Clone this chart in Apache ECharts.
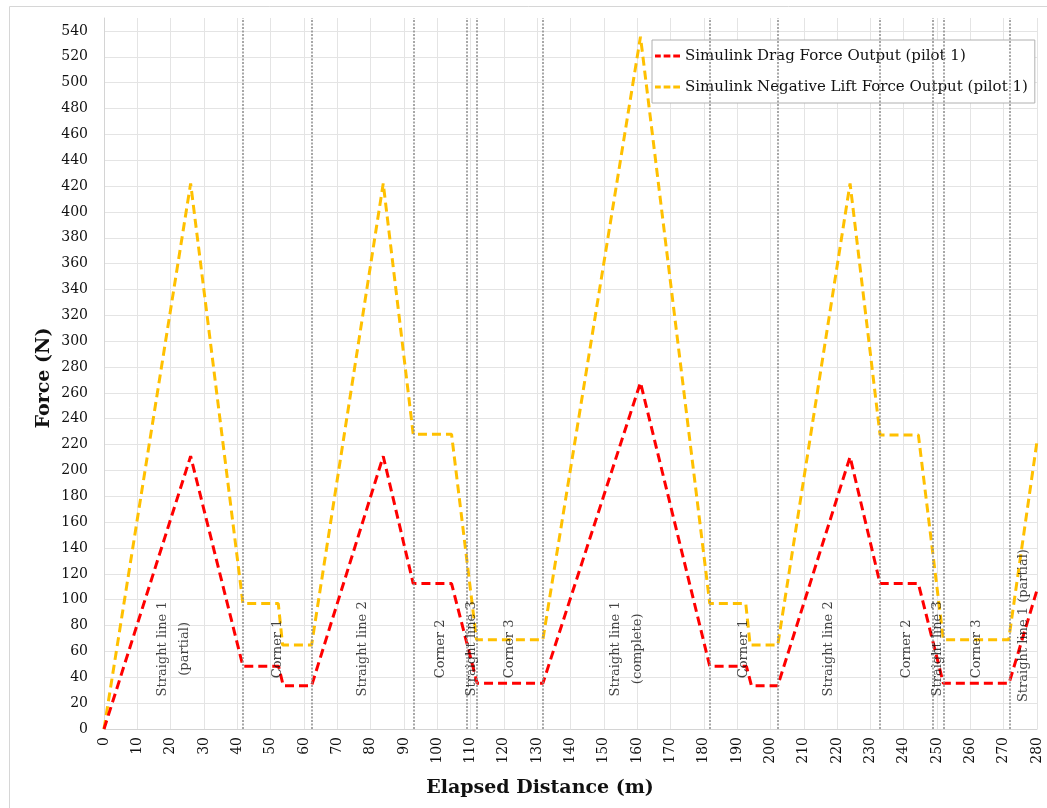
<!DOCTYPE html>
<html>
<head>
<meta charset="utf-8">
<title>Simulink force outputs over one lap</title>
<script src="https://cdn.jsdelivr.net/npm/echarts@6/dist/echarts.min.js"></script>
<style>
  html, body { margin: 0; padding: 0; background: #fff; }
  #chart { width: 1047px; height: 808px; }
</style>
</head>
<body>
<div id="chart"></div>
<script>
// Drag force output (pilot 1): breakpoints along the lap
const dragDistance = [0, 26, 41.7, 52.4, 53.8, 62.3, 83.8, 92.8, 104.3, 112.0, 131.7, 161.0, 181.8, 192.8, 194.3, 202.2, 223.9, 232.9, 244.4, 251.9, 271.6, 280];
const dragForce    = [0, 211, 48.5, 48.5, 33.5, 33.5, 211, 112.5, 112.5, 35.3, 35.3, 268, 48.5, 48.5, 33.5, 33.5, 210.5, 112.5, 112.5, 35.3, 35.3, 107.5];

// Negative lift force output (pilot 1)
const liftDistance = [0, 26, 41.7, 52.3, 53.6, 62.3, 83.8, 92.8, 104.3, 111.8, 131.7, 161.0, 181.8, 192.6, 193.9, 202.2, 223.9, 232.9, 244.4, 251.9, 271.5, 280];
const liftForce    = [0, 422, 97, 97, 65, 65, 422, 228, 228, 69, 69, 535.5, 97, 97, 65, 65, 422, 227.5, 227.5, 69, 69, 222.5];

// Section boundaries along the track (m)
const sectionBounds = [41.7, 62.3, 93.0, 108.9, 111.8, 131.7, 181.8, 202.2, 232.9, 248.7, 251.9, 271.7];
const sectionNames = [
  'Straight line 1\n(partial)', 'Corner 1', 'Straight line 2', 'Corner 2', 'Straight line 3', 'Corner 3',
  'Straight line 1\n(complete)', 'Corner 1', 'Straight line 2', 'Corner 2', 'Straight line 3', 'Corner 3',
  'Straight line 1 (partial)'
];

const seriesNames = ['Simulink Drag Force Output (pilot 1)', 'Simulink Negative Lift Force Output (pilot 1)'];
const xTitle = 'Elapsed Distance (m)';
const yTitle = 'Force (N)';

const FONT = 'DejaVu Serif';
const zip = (xs, ys) => xs.map((x, i) => [x, ys[i]]);

// Section name labels sit at the middle of each section
const edges = [0, ...sectionBounds, 280];
const sectionLabelData = sectionNames.map((name, i) => ({
  value: [(edges[i] + edges[i + 1]) / 2, i === sectionNames.length - 1 ? 80 : 62],
  name: name
}));

// Short dashed stroke used as the legend key
const dashIcon = 'path://M0,0h6v3h-6zM9,0h7v3h-7zM19,0h7v3h-7z';

const chart = echarts.init(document.getElementById('chart'), null, { renderer: 'canvas' });

chart.setOption({
  animation: false,
  backgroundColor: '#ffffff',
  textStyle: { fontFamily: FONT },
  grid: { left: 104, right: 10, top: 18, bottom: 79, containLabel: false },
  legend: {
    data: seriesNames.map(n => ({ name: n, icon: dashIcon })),
    orient: 'vertical',
    left: 652,
    top: 40,
    padding: [7, 7, 7, 3],
    itemWidth: 25,
    itemHeight: 3,
    itemGap: 13,
    backgroundColor: '#ffffff',
    borderColor: '#b0b0b0',
    borderWidth: 1,
    borderRadius: 0,
    textStyle: { fontFamily: FONT, fontSize: 15, color: '#111', lineHeight: 18 }
  },
  xAxis: {
    type: 'value',
    min: 0,
    max: 280,
    interval: 10,
    axisLine: { show: true, lineStyle: { color: '#d4d4d4', width: 1 } },
    axisTick: { show: false },
    axisLabel: { rotate: 90, margin: 8, fontFamily: FONT, fontSize: 14, color: '#111' },
    splitLine: { show: true, lineStyle: { color: '#e4e4e4', width: 1 } }
  },
  yAxis: {
    type: 'value',
    min: 0,
    max: 550,
    interval: 20,
    axisLine: { show: true, lineStyle: { color: '#d4d4d4', width: 1 } },
    axisTick: { show: false },
    axisLabel: { margin: 16, fontFamily: FONT, fontSize: 14, color: '#111', showMaxLabel: false },
    splitLine: { show: true, showMaxLine: false, lineStyle: { color: '#e4e4e4', width: 1 } }
  },
  graphic: [
    {
      type: 'rect',
      left: 7, top: 4,
      shape: { width: 1100, height: 900 },
      style: { fill: 'none', stroke: '#d6d6d6', lineWidth: 1 },
      z: -1, silent: true
    },
    {
      type: 'text',
      x: 540, y: 788,
      style: { text: xTitle, font: 'bold 19px "DejaVu Serif"', fill: '#111', align: 'center', verticalAlign: 'middle' }
    },
    {
      type: 'text',
      x: 44, y: 378,
      rotation: Math.PI / 2,
      style: { text: yTitle, font: 'bold 19px "DejaVu Serif"', fill: '#111', align: 'center', verticalAlign: 'middle' }
    }
  ],
  series: [
    {
      name: seriesNames[0],
      type: 'line',
      data: zip(dragDistance, dragForce),
      showSymbol: false,
      symbol: 'none',
      color: '#ff0000',
      itemStyle: { color: '#ff0000' },
      lineStyle: { color: '#ff0000', width: 3, type: [9, 5] },
      z: 3,
      markLine: {
        silent: true,
        symbol: ['none', 'none'],
        label: { show: false },
        lineStyle: { color: '#8a8a8a', width: 1.5, type: [2, 1.5] },
        data: sectionBounds.map(v => ({ xAxis: v }))
      }
    },
    {
      name: seriesNames[1],
      type: 'line',
      data: zip(liftDistance, liftForce),
      showSymbol: false,
      symbol: 'none',
      color: '#ffc000',
      itemStyle: { color: '#ffc000' },
      lineStyle: { color: '#ffc000', width: 3, type: [9, 5] },
      z: 2
    },
    {
      name: 'sections',
      type: 'scatter',
      data: sectionLabelData,
      symbolSize: 0,
      silent: true,
      z: 5,
      label: {
        show: true,
        position: 'inside',
        rotate: 90,
        formatter: p => p.name,
        fontFamily: FONT,
        fontSize: 13,
        lineHeight: 22,
        align: 'center',
        verticalAlign: 'middle',
        color: '#111'
      }
    }
  ]
});
</script>
</body>
</html>
